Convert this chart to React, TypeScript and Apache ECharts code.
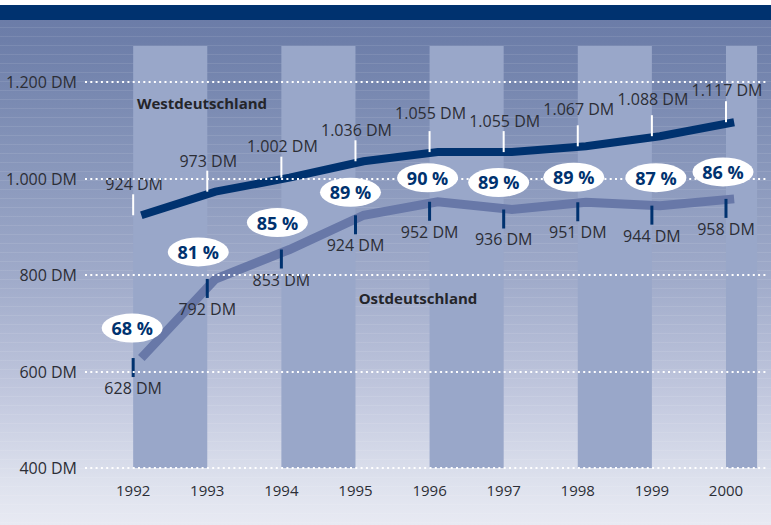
import React, { useEffect, useRef } from "react";
import * as echarts from "echarts";

const years = [1992, 1993, 1994, 1995, 1996, 1997, 1998, 1999, 2000];
const west = [924, 973, 1002, 1036, 1055, 1055, 1067, 1088, 1117];
const east = [628, 792, 853, 924, 952, 936, 951, 944, 958];
const ratio = [68, 81, 85, 89, 90, 89, 89, 87, 86];
const yTicks = [400, 600, 800, 1000, 1200];
const bands: [number, number][] = [
  [1992, 1993],
  [1994, 1995],
  [1996, 1997],
  [1998, 1999],
  [2000, 2000.42],
];

// layout tweaks (pixels), matching the hand-placed labels of the original
const westLabelLift = [0, 0, 1, 0, 8, 0, 6, 6, 1];
const bubbleDx = [-1, -9, -4, -5, -2, -5, -4, 4, -3];
const bubbleDy = [-30, -27, -27, -23, -24, -27, -25, -28, -27];

const fmtDM = (v: number) => {
  const s = String(v);
  return (s.length > 3 ? s.slice(0, s.length - 3) + "." + s.slice(-3) : s) + " DM";
};

const FONT = "'Open Sans', 'Noto Sans', sans-serif";
const NAVY = "#00326f";
const TXT = "#2c2e36";

export default function App() {
  const ref = useRef<HTMLDivElement>(null);
  useEffect(() => {
    document.body.style.margin = "0";
    const chart = echarts.init(ref.current!, null, { renderer: "svg" });
    const xMin = 1991.35;
    const xMax = 2000.54;
    const shift = 0.11;
    chart.setOption({
      animation: false,
      textStyle: { fontFamily: FONT },
      grid: { left: 85, right: 5, top: 46, bottom: 57 },
      xAxis: [
        {
          type: "value",
          min: xMin,
          max: xMax,
          splitLine: { show: false },
          axisLine: { show: false },
          axisTick: { show: false },
          axisLabel: {
            customValues: years,
            formatter: (v: number) => String(Math.round(v)),
            color: TXT,
            fontSize: 15,
            margin: 14,
            fontFamily: FONT,
          },
        },
        {
          type: "value",
          min: xMin - shift,
          max: xMax - shift,
          show: false,
        },
      ],
      yAxis: {
        type: "value",
        min: 400,
        max: 1275,
        show: false,
        splitLine: { show: false },
      },
      graphic: [
        {
          type: "rect",
          shape: { x: 0, y: 5, width: 771, height: 15 },
          style: { fill: NAVY },
          z: 10,
        },
        {
          type: "text",
          x: 202,
          y: 103,
          style: {
            text: "Westdeutschland",
            font: `bold 15px ${FONT}`,
            fill: "#24252a",
            align: "center",
            verticalAlign: "middle",
          },
          z: 10,
        },
        {
          type: "text",
          x: 418,
          y: 298,
          style: {
            text: "Ostdeutschland",
            font: `bold 15px ${FONT}`,
            fill: "#24252a",
            align: "center",
            verticalAlign: "middle",
          },
          z: 10,
        },
      ],
      series: [
        {
          type: "line",
          data: [],
          z: 1,
          markArea: {
            silent: true,
            itemStyle: { color: "#99a7c9", opacity: 1 },
            data: bands.map(([a, b]) => [{ xAxis: a }, { xAxis: b }]),
          },
        },
        {
          type: "line",
          data: [],
          z: 2,
          markLine: {
            silent: true,
            symbol: "none",
            lineStyle: { color: "#ffffff", width: 2, type: [2, 3.3], cap: "butt", opacity: 1 },
            label: {
              position: "start",
              distance: 8,
              color: TXT,
              fontSize: 16,
              fontFamily: FONT,
              formatter: (p: any) => fmtDM(p.value),
            },
            data: yTicks.map((v) => ({ yAxis: v })),
          },
        },
        {
          name: "Ostdeutschland",
          type: "line",
          xAxisIndex: 1,
          z: 3,
          symbol: "none",
          lineStyle: { color: "#6878a8", width: 9, cap: "butt", join: "miter" },
          data: years.map((y, i) => [y, east[i]]),
        },
        {
          name: "Westdeutschland",
          type: "line",
          xAxisIndex: 1,
          z: 3,
          symbol: "none",
          lineStyle: { color: NAVY, width: 8, cap: "butt", join: "miter" },
          data: years.map((y, i) => [y, west[i]]),
        },
        {
          type: "scatter",
          z: 4,
          symbol: "rect",
          symbolSize: [2, 21],
          symbolOffset: [0, -10.5],
          itemStyle: { color: "#ffffff", opacity: 1 },
          label: {
            show: true,
            position: "top",
            distance: 2,
            color: TXT,
            fontSize: 16,
            fontFamily: FONT,
            formatter: (p: any) => fmtDM(p.value[1]),
          },
          data: years.map((y, i) => ({
            value: [y, west[i]],
            label: { offset: [1, -westLabelLift[i]] },
          })),
        },
        {
          type: "scatter",
          z: 4,
          symbol: "rect",
          symbolSize: [3, 19],
          symbolOffset: [0, 9.5],
          itemStyle: { color: NAVY, opacity: 1 },
          label: {
            show: true,
            position: "bottom",
            distance: 3,
            color: TXT,
            fontSize: 16,
            fontFamily: FONT,
            formatter: (p: any) => fmtDM(p.value[1]),
          },
          data: years.map((y, i) => [y, east[i]]),
        },
        {
          type: "scatter",
          z: 5,
          symbol: "path://M0,50 A50,50 0 1,0 100,50 A50,50 0 1,0 0,50 Z",
          symbolSize: [61, 29],
          itemStyle: { color: "#ffffff", opacity: 1 },
          label: {
            show: true,
            position: "inside",
            color: NAVY,
            fontSize: 18,
            fontWeight: "bold",
            fontFamily: FONT,
            formatter: (p: any) => ratio[p.dataIndex] + " %",
          },
          data: years.map((y, i) => ({
            value: [y, east[i]],
            symbolOffset: [bubbleDx[i], bubbleDy[i]],
          })),
        },
      ],
    });
    return () => chart.dispose();
  }, []);
  return (
    <div
      ref={ref}
      style={{
        width: 771,
        height: 525,
        background:
          "linear-gradient(to bottom, #ffffff 0px, #ffffff 5px, transparent 5px), " +
          "repeating-linear-gradient(to bottom, rgba(255,255,255,0.09) 0px, rgba(255,255,255,0.09) 1px, transparent 1px, transparent 9px), " +
          "linear-gradient(to bottom, #6b7ba7 0px, #6d7ea9 40px, #8594b9 150px, #a0abca 280px, #c3c9df 400px, #dde1ed 480px, #e8eaf3 525px)",
      }}
    />
  );
}
